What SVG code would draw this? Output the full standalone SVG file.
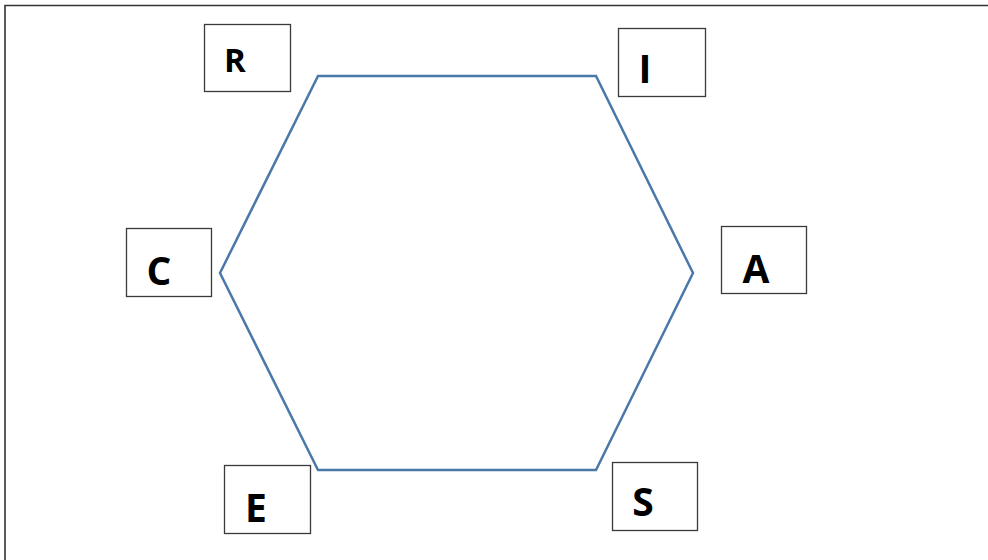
<svg xmlns="http://www.w3.org/2000/svg" width="988" height="560" viewBox="0 0 988 560">
  <style>
    .box { fill: #ffffff; stroke: #3a3a3a; stroke-width: 1.3; }
    .lbl { font-family: "Open Sans", "Liberation Sans", sans-serif; font-weight: bold; font-size: 39px; fill: #000000; text-anchor: middle; }
    .small { font-size: 33px; }
    .hex { fill: none; stroke: #4a78a8; stroke-width: 2.5; stroke-linejoin: miter; }
  </style>
  <rect x="0" y="0" width="988" height="560" fill="#ffffff"/>
  <path d="M5 560 V5.5 H988" fill="none" stroke="#333333" stroke-width="1.6"/>
  <g id="connectors">
    <polygon class="hex" points="318,76 596,76 693,273 596,470 318,470 220,273"/>
  </g>
  <g id="node-R">
    <rect class="box" x="204.5" y="24.5" width="86" height="67"/>
    <text class="lbl small" x="235" y="72">R</text>
  </g>
  <g id="node-I">
    <rect class="box" x="618.5" y="28.5" width="87" height="68"/>
    <text class="lbl" x="645" y="83">I</text>
  </g>
  <g id="node-C">
    <rect class="box" x="126.5" y="228.5" width="85" height="68"/>
    <text class="lbl" x="159" y="285">C</text>
  </g>
  <g id="node-A">
    <rect class="box" x="721.5" y="226.5" width="85" height="67"/>
    <text class="lbl" x="756" y="283">A</text>
  </g>
  <g id="node-E">
    <rect class="box" x="224.5" y="465.5" width="86" height="68"/>
    <text class="lbl" x="256" y="522">E</text>
  </g>
  <g id="node-S">
    <rect class="box" x="612.5" y="462.5" width="85" height="68"/>
    <text class="lbl" x="643" y="516">S</text>
  </g>
</svg>
